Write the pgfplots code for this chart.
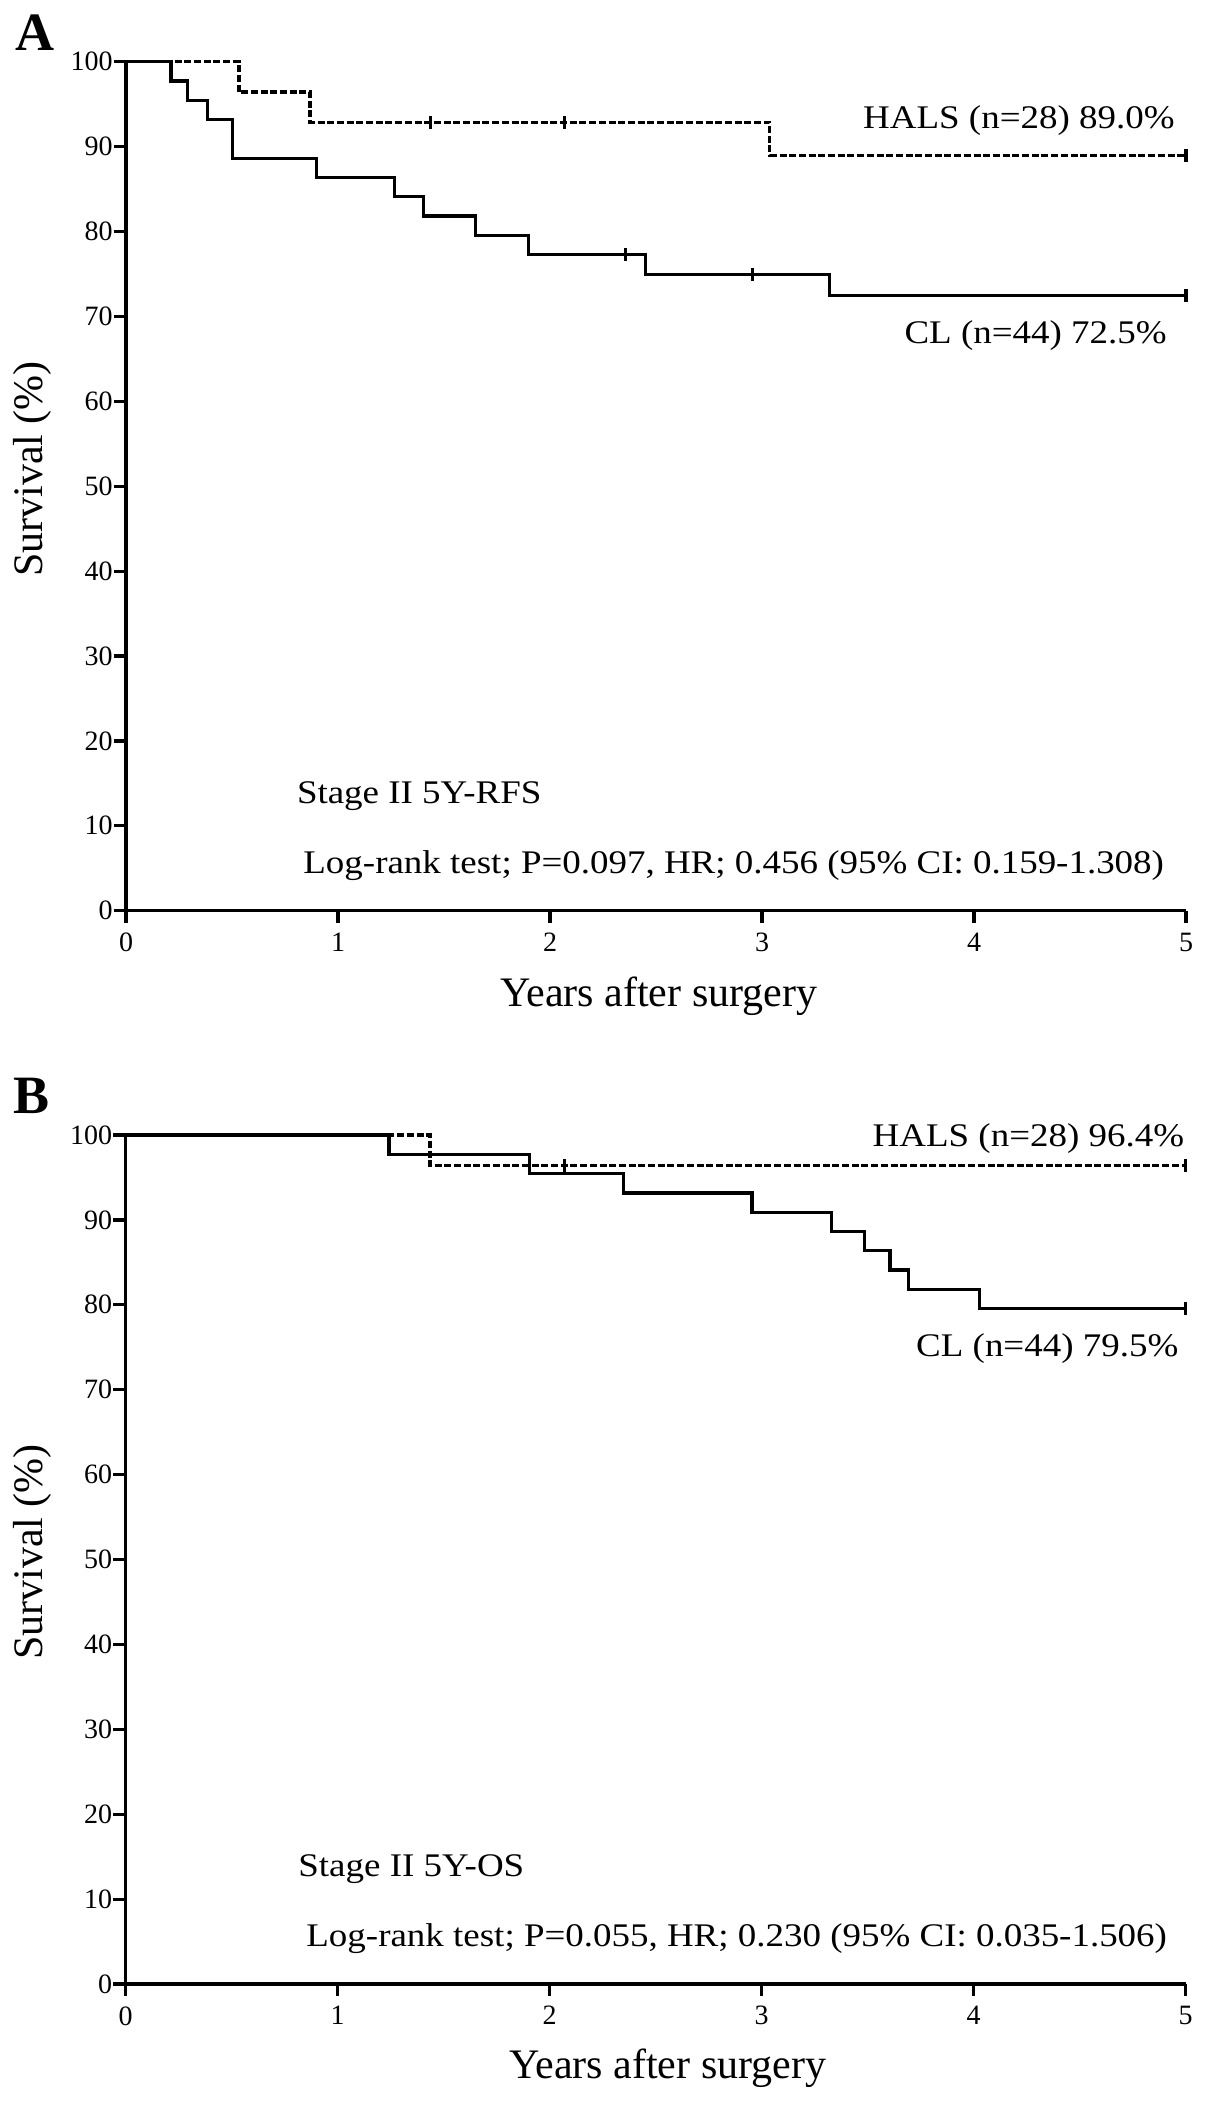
\documentclass[border=0pt]{standalone}
\usepackage{fontspec}
\setmainfont{Liberation Serif}
\usepackage{graphicx}
\usepackage{pgfplots}
\pgfplotsset{compat=1.18}
\newcommand\ann[1]{\scalebox{1.12}[1]{\fontsize{16.5}{19}\selectfont #1}}
\pgfplotsset{kmaxis/.style={
  scale only axis, width=530pt, height=424.5pt,
  xmin=0, xmax=5, ymin=0, ymax=100,
  axis x line*=bottom, axis y line*=left,
  axis line style={line width=1.6pt,-},
  tick style={line width=1.6pt,black},
  tick align=outside, major tick length=6pt,
  xtick={0,1,2,3,4,5}, ytick={0,10,...,100},
  /pgf/number format/assume math mode=true,
  tick label style={font=\fontsize{14}{16}\selectfont},
  yticklabel style={inner xsep=0.5pt},
  xticklabel style={inner ysep=5pt},
  clip=false,
},
solidkm/.style={const plot, black, line width=1.6pt, no marks},
dashkm/.style={const plot, black, line width=1.6pt, no marks, dash pattern=on 3.5pt off 1.35pt},
censor/.style={only marks, black, mark=|, mark size=3.2pt, mark options={line width=1.6pt, solid}},
}
\begin{document}
\begin{tikzpicture}
\useasboundingbox (0,0) rectangle (602.5pt,-1050.5pt);
% Panel A
\begin{axis}[kmaxis, at={(63pt,-455.35pt)}, anchor=south west]
\addplot[dashkm] coordinates {(0,100) (0.533,96.43) (0.868,92.86) (3.037,89.0) (5,89.0)};
\addplot[censor] coordinates {(1.436,92.86) (2.07,92.86) (5,89.0)};
\addplot[solidkm] coordinates {(0,100) (0.212,97.73) (0.29,95.45) (0.386,93.18) (0.501,88.64) (0.90,86.36) (1.265,84.09) (1.405,81.82) (1.65,79.55) (1.90,77.27) (2.45,74.93) (3.32,72.5) (5,72.5)};
\addplot[censor] coordinates {(2.355,77.27) (2.955,74.93) (5,72.5)};
\end{axis}
% Panel B
\begin{axis}[kmaxis, at={(62.75pt,-992pt)}, anchor=south west]
\addplot[dashkm] coordinates {(0,100) (1.436,96.43) (5,96.43)};
\addplot[censor] coordinates {(2.07,96.43) (5,96.43)};
\addplot[solidkm] coordinates {(0,100) (1.243,97.73) (1.906,95.45) (2.35,93.18) (2.955,90.91) (3.33,88.64) (3.484,86.36) (3.606,84.09) (3.695,81.82) (4.028,79.55) (5,79.55)};
\addplot[censor] coordinates {(5,79.55)};
\end{axis}
% Labels A
\node[anchor=base west, inner sep=0pt, font=\fontsize{27}{30}\selectfont\bfseries] at (7.5pt,-25pt) {A};
\node[anchor=base east, inner sep=0pt] at (587.5pt,-64pt) {\ann{HALS (n=28) 89.0\%}};
\node[anchor=base east, inner sep=0pt] at (583.5pt,-171.5pt) {\ann{CL (n=44) 72.5\%}};
\node[anchor=base west, inner sep=0pt] at (148.3pt,-401.5pt) {\ann{Stage II 5Y-RFS}};
\node[anchor=base west, inner sep=0pt] at (151.5pt,-436.5pt) {\ann{Log-rank test; P=0.097, HR; 0.456 (95\% CI: 0.159-1.308)}};
\node[anchor=base, inner sep=0pt, font=\fontsize{21}{24}\selectfont] at (329.4pt,-503.3pt) {Years after surgery};
\node[anchor=base, inner sep=0pt, rotate=90, font=\fontsize{21}{24}\selectfont] at (21pt,-234.5pt) {Survival (\%)};
% Labels B
\node[anchor=base west, inner sep=0pt, font=\fontsize{27}{30}\selectfont\bfseries] at (6.5pt,-556.5pt) {B};
\node[anchor=base east, inner sep=0pt] at (592.25pt,-573pt) {\ann{HALS (n=28) 96.4\%}};
\node[anchor=base east, inner sep=0pt] at (589.35pt,-678.35pt) {\ann{CL (n=44) 79.5\%}};
\node[anchor=base west, inner sep=0pt] at (149pt,-938.35pt) {\ann{Stage II 5Y-OS}};
\node[anchor=base west, inner sep=0pt] at (153pt,-973.35pt) {\ann{Log-rank test; P=0.055, HR; 0.230 (95\% CI: 0.035-1.506)}};
\node[anchor=base, inner sep=0pt, font=\fontsize{21}{24}\selectfont] at (333.9pt,-1039pt) {Years after surgery};
\node[anchor=base, inner sep=0pt, rotate=90, font=\fontsize{21}{24}\selectfont] at (21pt,-776pt) {Survival (\%)};
\end{tikzpicture}
\end{document}
